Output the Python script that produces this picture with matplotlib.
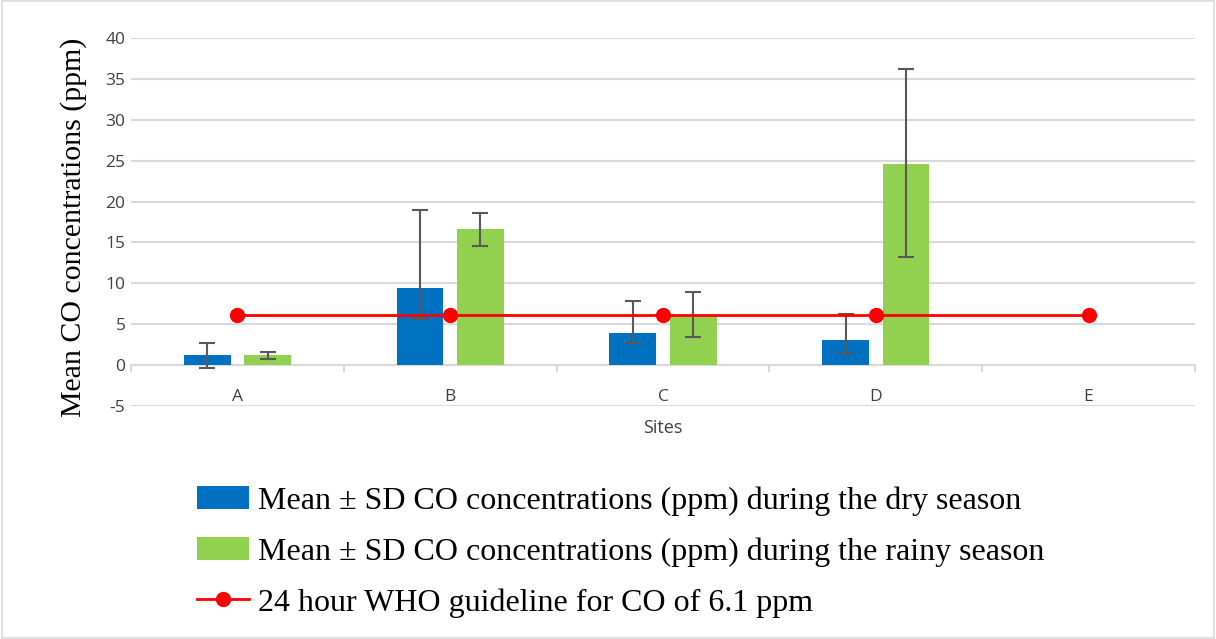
import matplotlib.pyplot as plt
import numpy as np
from matplotlib.patches import Rectangle

plt.rcParams["axes.unicode_minus"] = False

# Data
sites = ["A", "B", "C", "D", "E"]
dry_mean = [1.2, 9.4, 3.9, 3.1]
dry_err_low = [1.5, 3.7, 1.25, 1.6]
dry_err_high = [1.5, 9.6, 3.95, 3.2]
rainy_mean = [1.2, 16.6, 6.0, 24.6]
rainy_err_low = [0.4, 2.0, 2.6, 11.4]
rainy_err_high = [0.4, 2.0, 2.9, 11.6]
who_guideline = [6.1, 6.1, 6.1, 6.1, 6.1]

dry_label = "Mean \u00b1 SD CO concentrations (ppm) during the dry season"
rainy_label = "Mean \u00b1 SD CO concentrations (ppm) during the rainy season"
who_label = "24 hour WHO guideline for CO of 6.1 ppm"

fig = plt.figure(figsize=(12.16, 6.39), dpi=100)
ax = fig.add_axes([0.1077, 0.3646, 0.875, 0.5759])

x = np.arange(len(sites))
xb = np.arange(len(dry_mean))
width = 0.22
offset = 0.142

err_kw = dict(ecolor="#595959", elinewidth=1.5, capsize=6, capthick=1.5)
b1 = ax.bar(xb - offset, dry_mean, width, color="#0070c0",
            yerr=[dry_err_low, dry_err_high], error_kw=err_kw, zorder=3, label=dry_label)
b2 = ax.bar(xb + offset, rainy_mean, width, color="#92d050",
            yerr=[rainy_err_low, rainy_err_high], error_kw=err_kw, zorder=3, label=rainy_label)
ln, = ax.plot(x, who_guideline, color="#ff0000", lw=2, marker="o", markersize=10,
              zorder=4, label=who_label)

ax.set_xlim(-0.5, len(sites) - 0.5)
ax.set_ylim(-5, 40)
ax.set_yticks(np.arange(-5, 41, 5))
ax.yaxis.grid(True, color="#d9d9d9", lw=1.5, zorder=0)
ax.set_axisbelow(True)
for s in ["top", "right", "left", "bottom"]:
    ax.spines[s].set_visible(False)
ax.axhline(0, color="#d9d9d9", lw=1.5, zorder=1)

ax.set_xticks([])
ax.tick_params(axis="y", length=0, pad=4, labelsize=12.5, labelcolor="#404040")
for lab in ax.get_yticklabels():
    lab.set_family("Open Sans")

# site names sit just under the zero line, like Excel does
for xi, s in zip(x, sites):
    ax.text(xi, -3.9, s, ha="center", va="center", family="Open Sans",
            fontsize=12.5, color="#404040")

# category separator ticks on the zero line
for b in np.arange(-0.5, len(sites), 1.0):
    ax.plot([b, b], [0, -0.7], color="#d9d9d9", lw=1.5, clip_on=False, zorder=1)

ax.text(0.5, -0.06, "Sites", transform=ax.transAxes, ha="center", va="center",
        family="Open Sans", fontsize=13, color="#404040")
ax.set_ylabel("Mean CO concentrations (ppm)", family="Liberation Serif",
              fontsize=21.5, color="black")
ax.yaxis.set_label_coords(-0.041, 0.485)

leg = fig.legend(handles=[b1, b2, ln], labels=[dry_label, rainy_label, who_label],
                 loc="upper left", bbox_to_anchor=(0.138, 0.284), frameon=False,
                 prop={"family": "Liberation Serif", "size": 23},
                 handlelength=1.65, handleheight=0.7, labelspacing=0.67, handletextpad=0.28)

fig.patches.append(Rectangle((0.002, 0.002), 0.996, 0.996, transform=fig.transFigure,
                             fill=False, edgecolor="#d9d9d9", lw=1.2))

fig.savefig("out.png", dpi=100)
